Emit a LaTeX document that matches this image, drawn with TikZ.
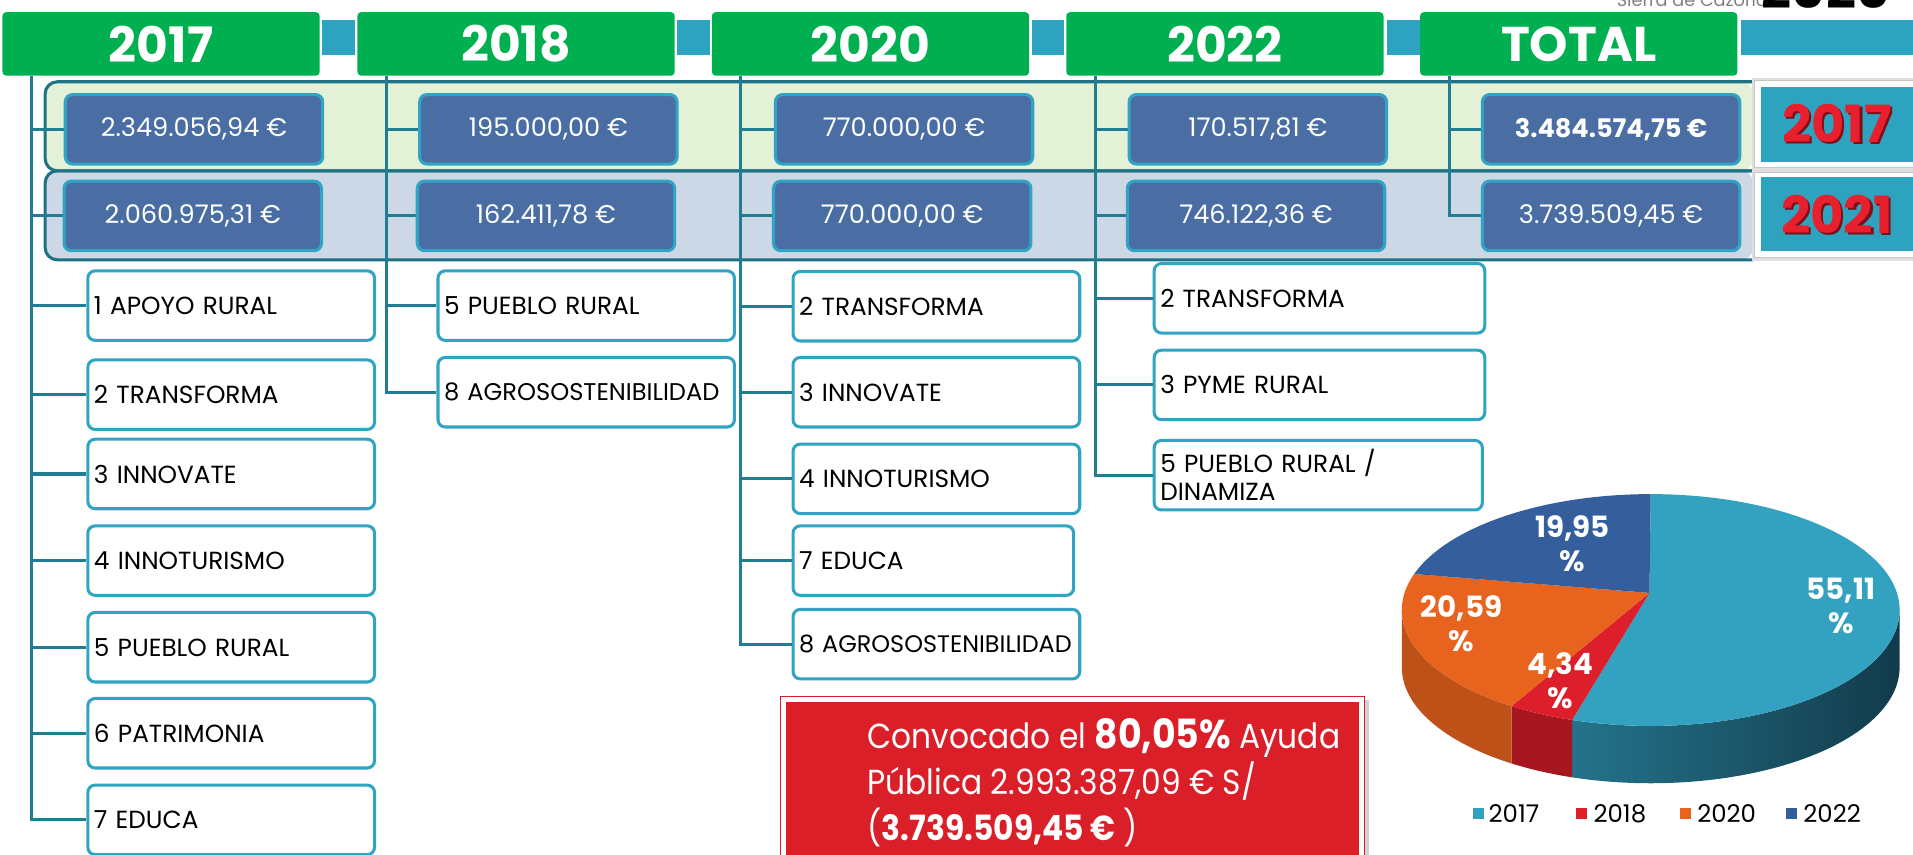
\documentclass[tikz,border=0pt]{standalone}
\usepackage{fontspec}
\setmainfont{Poppins}
\newfontfamily\redfont{Poppins}[FakeStretch=0.9]
\usetikzlibrary{calc}
\definecolor{hdrgreen}{HTML}{00B050}
\definecolor{sqteal}{HTML}{2EA3C0}
\definecolor{trunkcol}{HTML}{217D92}
\definecolor{bandline}{HTML}{1F7285}
\definecolor{bandA}{HTML}{E3F1D7}
\definecolor{bandB}{HTML}{CDD8E6}
\definecolor{moneyblue}{HTML}{4A6EA3}
\definecolor{boxteal}{HTML}{31A4C3}
\definecolor{redbox}{HTML}{DA1F29}
\definecolor{labred}{HTML}{E8202E}
\definecolor{labdark}{HTML}{7A1018}
\definecolor{pA}{HTML}{33A2C1}
\definecolor{pAsideL}{HTML}{24738B}
\definecolor{pAsideR}{HTML}{123B4B}
\definecolor{pB}{HTML}{DC1F2A}
\definecolor{pBside}{HTML}{A8161F}
\definecolor{pC}{HTML}{E8641E}
\definecolor{pCside}{HTML}{BE5118}
\definecolor{pD}{HTML}{345E9C}
\begin{document}
\begin{tikzpicture}[x=1pt,y=-1pt,
  hdr/.style={fill=hdrgreen, rounded corners=3, minimum width=260, minimum height=52, inner sep=0, text=white, font=\bfseries\fontsize{40}{40}\selectfont},
  sq/.style={fill=sqteal, minimum width=27, minimum height=29, inner sep=0},
  trunk/.style={draw=trunkcol, line width=2.5},
  money/.style={fill=moneyblue, draw=boxteal, line width=2.5, rounded corners=6, minimum width=211, minimum height=57, inner sep=0, text=white, font=\fontsize{21}{21}\selectfont},
  cat/.style={fill=white, draw=boxteal, line width=2.5, rounded corners=6, minimum height=57, inner xsep=5, inner ysep=0, text=black, align=left, font=\fontsize{20.3}{23}\selectfont},
  lab/.style={inner sep=0, font=\bfseries\fontsize{42}{42}\selectfont},
  pielab/.style={inner sep=0, text=white, align=center, font=\bfseries\fontsize{24}{28}\selectfont},
  leg/.style={anchor=west, inner sep=0, font=\fontsize{20}{20}\selectfont}
]
\useasboundingbox (0,0) rectangle (1568,700);

% top-right cut title
\node[anchor=base west, text=gray, inner sep=0, font=\fontsize{14.5}{14.5}\selectfont] (sierra) at (1325,5) {Sierra de Cazorla};
\node[anchor=base west, inner sep=0, font=\bfseries\fontsize{43}{43}\selectfont] (yr) at (1444,7) {2020};

% headers
\node[hdr] (h17) at (132,36) {2017};
\node[hdr] (h18) at (423,36) {2018};
\node[hdr] (h20) at (713.5,36) {2020};
\node[hdr] (h22) at (1004,36) {2022};
\node[hdr] (htot) at (1294,36) {TOTAL};
\node[sq] (s1) at (277.5,30.5) {};
\node[sq] (s2) at (568.5,30.5) {};
\node[sq] (s3) at (859,30.5) {};
\node[sq] (s4) at (1150,30.5) {};
\node[sq, minimum width=142, anchor=west] (s5) at (1427,30.5) {};

% bands
\fill[bandA, rounded corners=10] (37,67) rectangle (1437,140);
\fill[bandB, rounded corners=10] (37,140) rectangle (1437,213);
\draw[bandline, line width=2.5, rounded corners=10] (1437,67) -- (37,67) -- (37,140) -- (1437,140);
\draw[bandline, line width=2.5, rounded corners=10] (1437,140) -- (37,140) -- (37,213) -- (1437,213);

% right year labels
\fill[gray!25] (1436,64) rectangle (1570,139);
\filldraw[fill=white, draw=gray!45, line width=0.8] (1438,66) rectangle (1570,137);
\fill[sqteal] (1443,71) rectangle (1570,133);
\fill[gray!25] (1436,139) rectangle (1570,214);
\filldraw[fill=white, draw=gray!45, line width=0.8] (1438,141) rectangle (1570,211);
\fill[sqteal] (1443,145) rectangle (1570,206);
\node[lab, text=labdark] (l17s) at (1507.5,103) {2017};
\node[lab, text=labred] (l17) at (1505.5,101) {2017};
\node[lab, text=labdark] (l21s) at (1507.5,177.5) {2021};
\node[lab, text=labred] (l21) at (1505.5,175.5) {2021};

% trunk start points
\coordinate (t17) at ([xshift=24]h17.south west);
\coordinate (t18) at ([xshift=24]h18.south west);
\coordinate (t20) at ([xshift=24]h20.south west);
\coordinate (t22) at ([xshift=24]h22.south west);
\coordinate (ttot) at ([xshift=24]htot.south west);

% money node positions
\coordinate (p17a) at (159,106);
\coordinate (p17b) at (158,177);
\coordinate (p18a) at (449.5,106);
\coordinate (p18b) at (447.5,177);
\coordinate (p20a) at (741,106);
\coordinate (p20b) at (739.5,177);
\coordinate (p22a) at (1031,106);
\coordinate (p22b) at (1029.5,177);
\coordinate (pta) at (1320.5,106);
\coordinate (ptb) at (1320.5,177);

% category nodes
\node[cat, minimum width=235, text width=225] (c17a) at (189.5,250.5) {1 APOYO RURAL};
\node[cat, minimum width=235, text width=225] (c17b) at (189.5,323.5) {2 TRANSFORMA};
\node[cat, minimum width=235, text width=225] (c17c) at (189.5,388.5) {3 INNOVATE};
\node[cat, minimum width=235, text width=225] (c17d) at (189.5,459.5) {4 INNOTURISMO};
\node[cat, minimum width=235, text width=225] (c17e) at (189.5,530.5) {5 PUEBLO RURAL};
\node[cat, minimum width=235, text width=225] (c17f) at (189.5,601) {6 PATRIMONIA};
\node[cat, minimum width=235, text width=225] (c17g) at (189.5,672) {7 EDUCA};

\node[cat, minimum width=243, text width=233] (c18a) at (480.5,250.5) {5 PUEBLO RURAL};
\node[cat, minimum width=243, text width=233, font=\fontsize{19.8}{23}\selectfont] (c18b) at (480.5,321.5) {\mbox{8 AGROSOSTENIBILIDAD}};

\node[cat, minimum width=235, text width=225] (c20a) at (767.5,251) {2 TRANSFORMA};
\node[cat, minimum width=235, text width=225] (c20b) at (767.5,321.5) {3 INNOVATE};
\node[cat, minimum width=235, text width=225] (c20c) at (767.5,392.5) {4 INNOTURISMO};
\node[cat, minimum width=230, text width=220] (c20d) at (765,459.5) {7 EDUCA};
\node[cat, minimum width=235, text width=225, font=\fontsize{19.6}{23}\selectfont] (c20e) at (767.5,528) {\mbox{8 AGROSOSTENIBILIDAD}};

\node[cat, minimum width=271, text width=261] (c22a) at (1081.5,244.5) {2 TRANSFORMA};
\node[cat, minimum width=271, text width=261] (c22b) at (1081.5,315.5) {3 PYME RURAL};
\node[cat, minimum width=269, text width=259] (c22c) at (1080.5,389.5) {5 PUEBLO RURAL /\\DINAMIZA};

% connectors (to money positions and category boxes)
\foreach \c in {p17a,p17b} \draw[trunk] (t17) |- (\c);
\foreach \c in {c17a,c17b,c17c,c17d,c17e,c17f,c17g} \draw[trunk] (t17) |- (\c.west);
\foreach \c in {p18a,p18b} \draw[trunk] (t18) |- (\c);
\foreach \c in {c18a,c18b} \draw[trunk] (t18) |- (\c.west);
\foreach \c in {p20a,p20b} \draw[trunk] (t20) |- (\c);
\foreach \c in {c20a,c20b,c20c,c20d,c20e} \draw[trunk] (t20) |- (\c.west);
\foreach \c in {p22a,p22b} \draw[trunk] (t22) |- (\c);
\foreach \c in {c22a,c22b,c22c} \draw[trunk] (t22) |- (\c.west);
\foreach \c in {pta,ptb} \draw[trunk] (ttot) |- (\c);

% money boxes (drawn over connector ends)
\node[money] (m17a) at (p17a) {2.349.056,94 €};
\node[money] (m17b) at (p17b) {2.060.975,31 €};
\node[money] (m18a) at (p18a) {195.000,00 €};
\node[money] (m18b) at (p18b) {162.411,78 €};
\node[money] (m20a) at (p20a) {770.000,00 €};
\node[money] (m20b) at (p20b) {770.000,00 €};
\node[money] (m22a) at (p22a) {170.517,81 €};
\node[money] (m22b) at (p22b) {746.122,36 €};
\node[money, font=\bfseries\fontsize{21}{21}\selectfont] (mta) at (pta) {3.484.574,75 €};
\node[money] (mtb) at (ptb) {3.739.509,45 €};

% red box
\fill[gray!35] (643,574) rectangle (1122,710);
\filldraw[fill=white, draw=redbox, line width=0.8] (640,571) rectangle (1118,710);
\fill[redbox] (644,575) rectangle (1114,710);
\node[anchor=north west, align=left, text=white, inner sep=0, font=\redfont\fontsize{28.5}{37.5}\selectfont] (redtxt) at (711,589)
  {Convocado el {\bfseries\fontsize{33}{37.5}\selectfont 80,05\%} Ayuda\\Pública 2.993.387,09 € S/\\({\bfseries 3.739.509,45 €} )};

% pie chart
\begin{scope}[shift={(1353,500)}, yscale=-1]
  \def\ra{204}\def\rb{95}\def\dp{47}
  \shade[left color=pAsideL, right color=pAsideR]
    (-108.4:\ra\space and \rb) arc[start angle=-108.4, end angle=0, x radius=\ra, y radius=\rb]
    -- ++(0,-\dp) arc[start angle=0, end angle=-108.4, x radius=\ra, y radius=\rb] -- cycle;
  \fill[pBside]
    (-124:\ra\space and \rb) arc[start angle=-124, end angle=-108.4, x radius=\ra, y radius=\rb]
    -- ++(0,-\dp) arc[start angle=-108.4, end angle=-124, x radius=\ra, y radius=\rb] -- cycle;
  \fill[pCside]
    (-180:\ra\space and \rb) arc[start angle=-180, end angle=-124, x radius=\ra, y radius=\rb]
    -- ++(0,-\dp) arc[start angle=-124, end angle=-180, x radius=\ra, y radius=\rb] -- cycle;
  \fill[pA] (-1,14) -- (90:\ra\space and \rb) arc[start angle=90, end angle=-108.4, x radius=\ra, y radius=\rb] -- cycle;
  \fill[pB] (-1,14) -- (-108.4:\ra\space and \rb) arc[start angle=-108.4, end angle=-124, x radius=\ra, y radius=\rb] -- cycle;
  \fill[pC] (-1,14) -- (-124:\ra\space and \rb) arc[start angle=-124, end angle=-198.1, x radius=\ra, y radius=\rb] -- cycle;
  \fill[pD] (-1,14) -- (-198.1:\ra\space and \rb) arc[start angle=-198.1, end angle=-270, x radius=\ra, y radius=\rb] -- cycle;
\end{scope}
\node[pielab] (p17) at (1509,497) {55,11\\\%};
\node[pielab] (p22) at (1289,446) {19,95\\\%};
\node[pielab] (p20) at (1198,511) {20,59\\\%};
\node[pielab] (p18) at (1279,558) {4,34\\\%};

% legend
\fill[pA] (1207,662.5) rectangle (1216,671.5);
\node[leg] (g17) at (1220,667) {2017};
\fill[pB] (1292,662.5) rectangle (1301,671.5);
\node[leg] (g18) at (1306,667) {2018};
\fill[pC] (1377,662.5) rectangle (1386,671.5);
\node[leg] (g20) at (1391,667) {2020};
\fill[pD] (1464,662.5) rectangle (1473,671.5);
\node[leg] (g22) at (1478,667) {2022};
\end{tikzpicture}
\end{document}
